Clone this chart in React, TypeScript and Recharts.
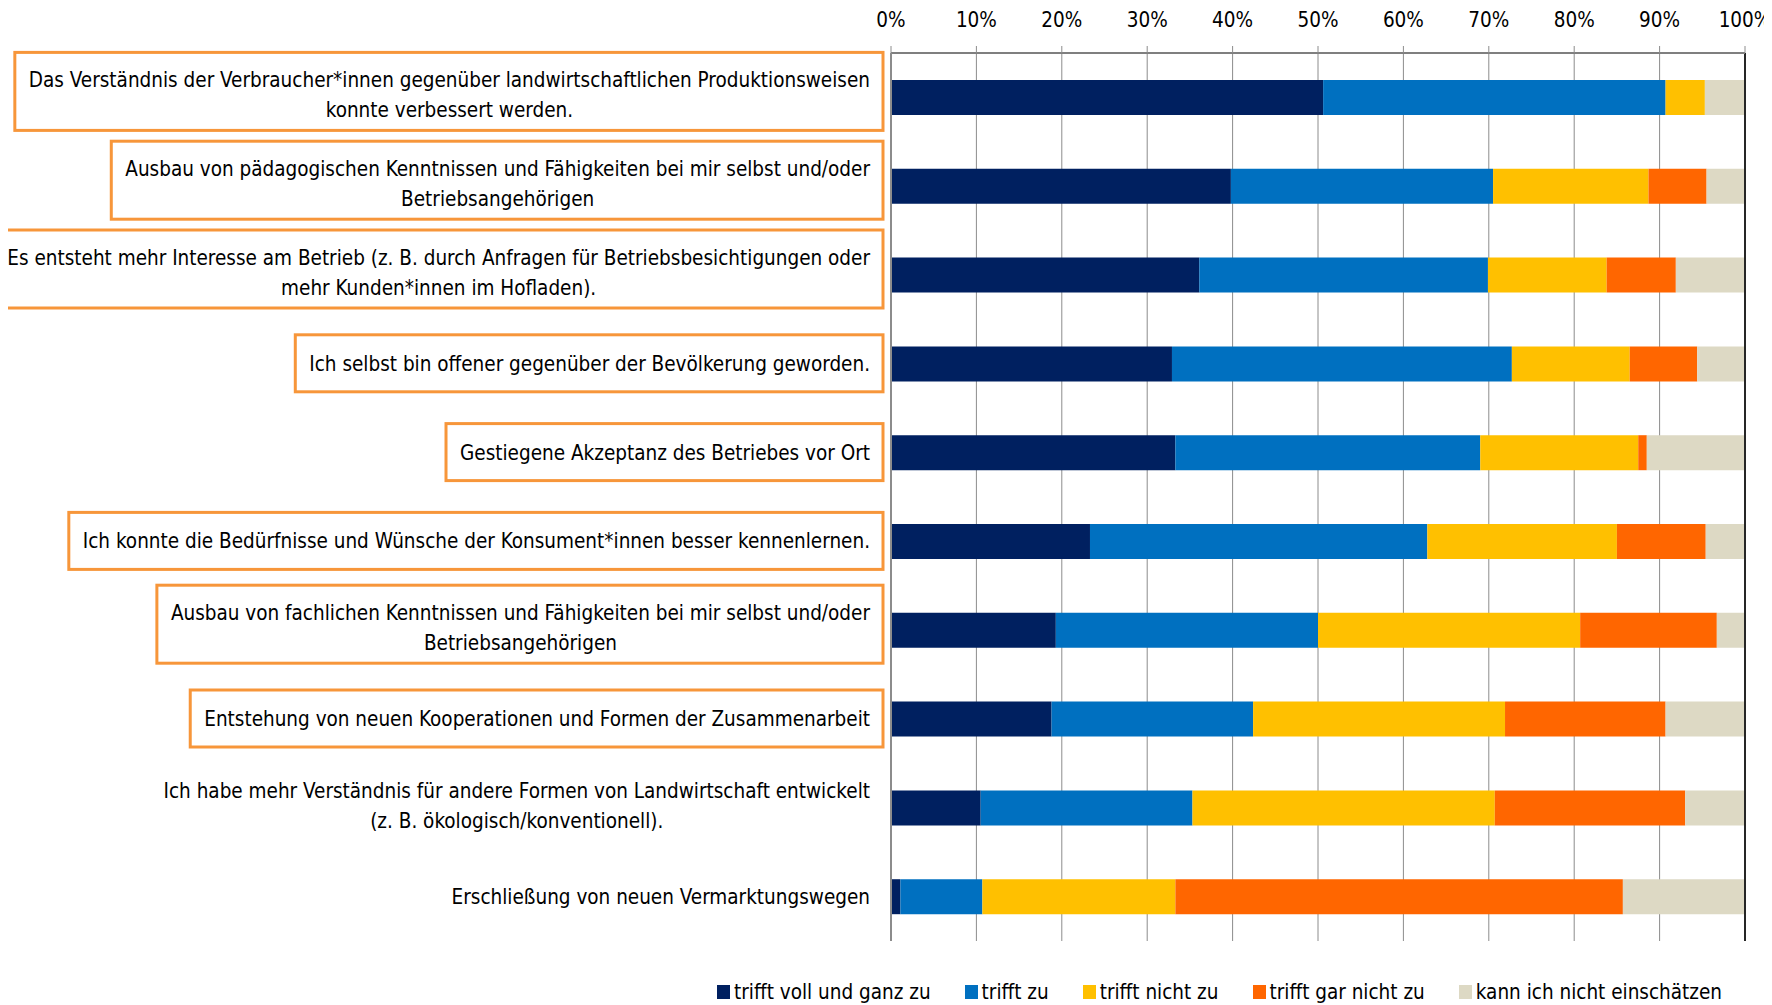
import React from 'react';
import { Bar, BarChart, CartesianGrid, Legend, ReferenceLine, XAxis, YAxis } from 'recharts';

// statements, top to bottom
const categories = [
  'Das Verständnis der Verbraucher*innen gegenüber landwirtschaftlichen Produktionsweisen\nkonnte verbessert werden.',
  'Ausbau von pädagogischen Kenntnissen und Fähigkeiten bei mir selbst und/oder\nBetriebsangehörigen',
  'Es entsteht mehr Interesse am Betrieb (z. B. durch Anfragen für Betriebsbesichtigungen oder\nmehr Kunden*innen im Hofladen).',
  'Ich selbst bin offener gegenüber der Bevölkerung geworden.',
  'Gestiegene Akzeptanz des Betriebes vor Ort',
  'Ich konnte die Bedürfnisse und Wünsche der Konsument*innen besser kennenlernen.',
  'Ausbau von fachlichen Kenntnissen und Fähigkeiten bei mir selbst und/oder\nBetriebsangehörigen',
  'Entstehung von neuen Kooperationen und Formen der Zusammenarbeit',
  'Ich habe mehr Verständnis für andere Formen von Landwirtschaft entwickelt\n(z. B. ökologisch/konventionell).',
  'Erschließung von neuen Vermarktungswegen',
];

// statements framed in the original
const highlighted = [0, 1, 2, 3, 4, 5, 6, 7];

const seriesNames = [
  'trifft voll und ganz zu',
  'trifft zu',
  'trifft nicht zu',
  'trifft gar nicht zu',
  'kann ich nicht einschätzen',
];

const vollUndGanz = [50.6, 39.8, 36.1, 32.9, 33.3, 23.3, 19.3, 18.8, 10.5, 1.1];
const zu = [40.1, 30.7, 33.8, 39.8, 35.7, 39.5, 30.7, 23.6, 24.8, 9.6];
const nichtZu = [4.6, 18.2, 13.9, 13.8, 18.5, 22.2, 30.7, 29.5, 35.4, 22.6];
const garNicht = [0, 6.8, 8.1, 7.9, 1.0, 10.4, 16.0, 18.8, 22.3, 52.4];
const weissNicht = [4.7, 4.5, 8.1, 5.6, 11.5, 4.6, 3.3, 9.3, 7.0, 14.3];

const pctTicks = [0, 10, 20, 30, 40, 50, 60, 70, 80, 90, 100];
const edgeTicks = [0, 1, 2, 3, 4, 5, 6, 7, 8, 9, 10];

const colors = ['#002060', '#0070C0', '#FFC000', '#FF6600', '#DDD9C4'];
const keys = ['s0', 's1', 's2', 's3', 's4'];

const rows = categories.map((name, i) => ({
  name,
  s0: vollUndGanz[i],
  s1: zu[i],
  s2: nichtZu[i],
  s3: garNicht[i],
  s4: weissNicht[i],
}));

const FONT = "'DejaVu Sans Condensed', 'Liberation Sans Narrow', sans-serif";
const FONT_SIZE = 20.5;

let measureCtx: CanvasRenderingContext2D | null = null;
const measure = (s: string) => {
  if (!measureCtx) {
    measureCtx = document.createElement('canvas').getContext('2d');
  }
  if (!measureCtx) return s.length * 10;
  measureCtx.font = `${FONT_SIZE}px ${FONT}`;
  return measureCtx.measureText(s).width;
};

function CategoryTick(props: any) {
  const { x, y, payload } = props;
  const label: string = payload.value;
  const lines = label.split('\n');
  const idx = categories.indexOf(label);
  const boxed = highlighted.includes(idx);
  const right = x - 13;
  const w = Math.max(...lines.map(measure));
  const cx = right - w / 2;
  const lh = 30;
  const first = y - ((lines.length - 1) * lh) / 2 - (lines.length > 1 ? 2 : 0);
  const top = lines.length > 1 ? y - 45 : y - 29;
  const bottom = lines.length > 1 ? y + 33 : y + 28;
  return (
    <g>
      {boxed && (
        <rect
          x={right - w - 14}
          y={top}
          width={w + 27}
          height={bottom - top}
          fill="#fff"
          stroke="#F7963A"
          strokeWidth={3}
        />
      )}
      {lines.map((line, i) => (
        <text
          key={i}
          x={cx}
          y={first + i * lh}
          textAnchor="middle"
          dominantBaseline="central"
          fontFamily={FONT}
          fontSize={FONT_SIZE}
          fill="#000"
        >
          {line}
        </text>
      ))}
    </g>
  );
}

function LegendContent() {
  return (
    <div
      style={{
        display: 'flex',
        gap: 34,
        alignItems: 'center',
        height: 30,
        whiteSpace: 'nowrap',
        fontFamily: FONT,
        fontSize: FONT_SIZE,
      }}
    >
      {seriesNames.map((name, i) => (
        <div key={name} style={{ display: 'flex', alignItems: 'center', gap: 4 }}>
          <span style={{ display: 'inline-block', width: 13, height: 14, background: colors[i] }} />
          <span style={{ color: '#000' }}>{name}</span>
        </div>
      ))}
    </div>
  );
}

export default function App() {
  return (
    <div style={{ width: 1764, height: 997, background: '#fff' }}>
      <BarChart
        width={1764}
        height={997}
        data={rows}
        layout="vertical"
        margin={{ top: 0, right: 27, bottom: 34, left: 0 }}
        barSize={35}
      >
        <CartesianGrid horizontal={false} vertical stroke="#8c8c8c" yAxisId="edge" />
        <XAxis
          type="number"
          orientation="top"
          domain={[0, 100]}
          ticks={pctTicks}
          height={45}
          tickSize={7}
          tickMargin={19}
          tickFormatter={(v: number) => `${v}%`}
          axisLine={{ stroke: '#7f7f7f', strokeWidth: 2 }}
          tickLine={{ stroke: '#8c8c8c' }}
          tick={{ fill: '#000', fontFamily: FONT, fontSize: FONT_SIZE }}
          interval={0}
        />
        <YAxis
          yAxisId="edge"
          type="number"
          domain={[0, 10]}
          ticks={edgeTicks}
          reversed
          width={6}
          tickSize={5}
          tick={false}
          axisLine={{ stroke: '#8c8c8c', strokeWidth: 2 }}
          tickLine={{ stroke: '#8c8c8c' }}
        />
        <YAxis
          yAxisId="labels"
          type="category"
          dataKey="name"
          width={877}
          axisLine={false}
          tickLine={false}
          tickSize={0}
          interval={0}
          tick={<CategoryTick />}
        />
        {keys.map((k, i) => (
          <Bar
            key={k}
            dataKey={k}
            name={seriesNames[i]}
            stackId="a"
            yAxisId="labels"
            fill={colors[i]}
            isAnimationActive={false}
          />
        ))}
        <ReferenceLine x={100} yAxisId="edge" stroke="#262626" strokeWidth={2} />
        <ReferenceLine y={10} yAxisId="edge" stroke="#262626" strokeWidth={2} />
        <Legend
          verticalAlign="bottom"
          content={<LegendContent />}
          wrapperStyle={{ top: 969, left: 709, width: 1040 }}
        />
      </BarChart>
    </div>
  );
}
